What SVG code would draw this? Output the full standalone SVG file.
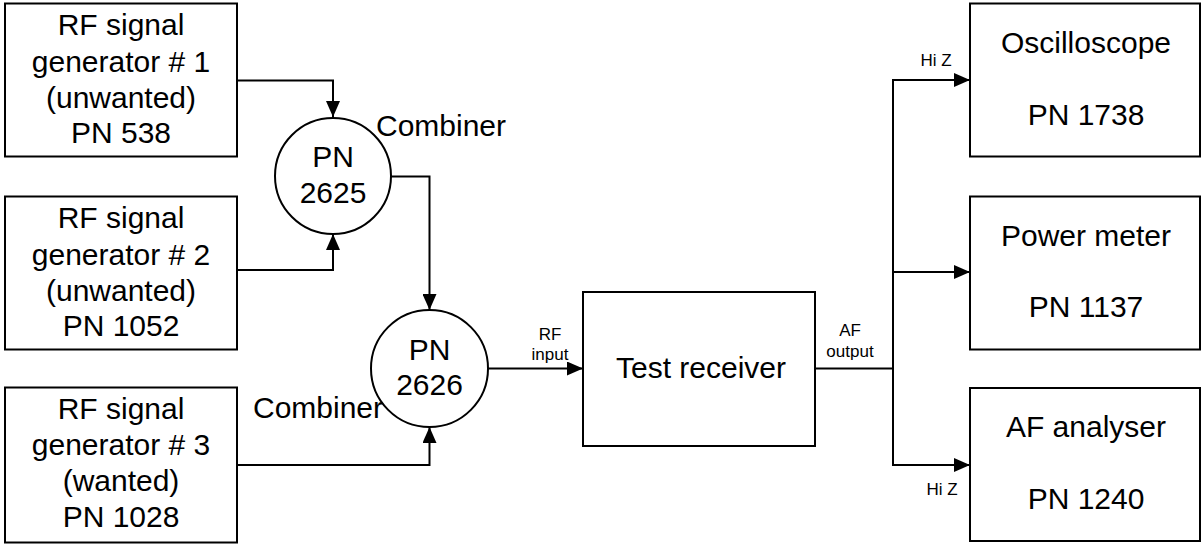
<svg xmlns="http://www.w3.org/2000/svg" width="1202" height="544" viewBox="0 0 1202 544">
<defs>
<marker id="arr" markerWidth="16" markerHeight="14" refX="16" refY="7" orient="auto" markerUnits="userSpaceOnUse">
<path d="M0,0 L16,7 L0,14 Z" fill="#000"/>
</marker>
<style>
.box{fill:#fff;stroke:#000;stroke-width:2}
.t{font-family:"Liberation Sans",Arial,sans-serif;font-size:30px;fill:#000;text-anchor:middle}
.s{font-family:"Liberation Sans",Arial,sans-serif;font-size:17px;fill:#000;text-anchor:middle}
.c{fill:none;stroke:#000;stroke-width:2}
</style>
</defs>
<rect width="1202" height="544" fill="#fff"/>
<g id="connectors">
<path class="c" d="M237,80.5 H333 V117" marker-end="url(#arr)"/>
<path class="c" d="M237,270 H333 V234" marker-end="url(#arr)"/>
<path class="c" d="M391,176.5 H429.5 V310" marker-end="url(#arr)"/>
<path class="c" d="M237,465 H429.5 V427" marker-end="url(#arr)"/>
<path class="c" d="M488,368.5 H583" marker-end="url(#arr)"/>
<path class="c" d="M815,368.5 H893"/>
<path class="c" d="M893,80 V465"/>
<path class="c" d="M892,80 H970" marker-end="url(#arr)"/>
<path class="c" d="M892,272 H970" marker-end="url(#arr)"/>
<path class="c" d="M892,465 H970" marker-end="url(#arr)"/>
<text class="s" x="550" y="340">RF</text>
<text class="s" x="550" y="360">input</text>
<text class="s" x="850" y="336">AF</text>
<text class="s" x="850" y="357">output</text>
<text class="s" x="936" y="66">Hi Z</text>
<text class="s" x="942" y="495">Hi Z</text>
</g>
<g id="gen1">
<rect class="box" x="5" y="3.5" width="232" height="153"/>
<text class="t" x="121" y="35">RF signal</text>
<text class="t" x="121" y="71.7">generator # 1</text>
<text class="t" x="121" y="107.7">(unwanted)</text>
<text class="t" x="121" y="142.7">PN 538</text>
</g>
<g id="gen2">
<rect class="box" x="5" y="196.5" width="232" height="153"/>
<text class="t" x="121" y="228">RF signal</text>
<text class="t" x="121" y="264.7">generator # 2</text>
<text class="t" x="121" y="300.7">(unwanted)</text>
<text class="t" x="121" y="335.7">PN 1052</text>
</g>
<g id="gen3">
<rect class="box" x="5" y="387.5" width="232" height="155"/>
<text class="t" x="121" y="418.5">RF signal</text>
<text class="t" x="121" y="455">generator # 3</text>
<text class="t" x="121" y="490.5">(wanted)</text>
<text class="t" x="121" y="526.5">PN 1028</text>
</g>
<g id="combiner1">
<circle class="box" cx="333" cy="176" r="58"/>
<text class="t" x="333" y="167">PN</text>
<text class="t" x="333" y="203">2625</text>
<text class="t" x="376" y="136" style="text-anchor:start">Combiner</text>
</g>
<g id="combiner2">
<circle class="box" cx="429.5" cy="368.5" r="58.5"/>
<text class="t" x="429.5" y="360">PN</text>
<text class="t" x="429.5" y="395">2626</text>
<text class="t" x="253" y="418" style="text-anchor:start">Combiner</text>
</g>
<g id="receiver">
<rect class="box" x="583" y="292" width="232" height="154"/>
<text class="t" x="701" y="377.7">Test receiver</text>
</g>
<g id="oscilloscope">
<rect class="box" x="970" y="3.5" width="230" height="153"/>
<text class="t" x="1086" y="53.3">Oscilloscope</text>
<text class="t" x="1086" y="125">PN 1738</text>
</g>
<g id="powermeter">
<rect class="box" x="970" y="196.5" width="230" height="153"/>
<text class="t" x="1086" y="246">Power meter</text>
<text class="t" x="1086" y="317">PN 1137</text>
</g>
<g id="afanalyser">
<rect class="box" x="970" y="388" width="230" height="153"/>
<text class="t" x="1086" y="437">AF analyser</text>
<text class="t" x="1086" y="509">PN 1240</text>
</g>
</svg>
